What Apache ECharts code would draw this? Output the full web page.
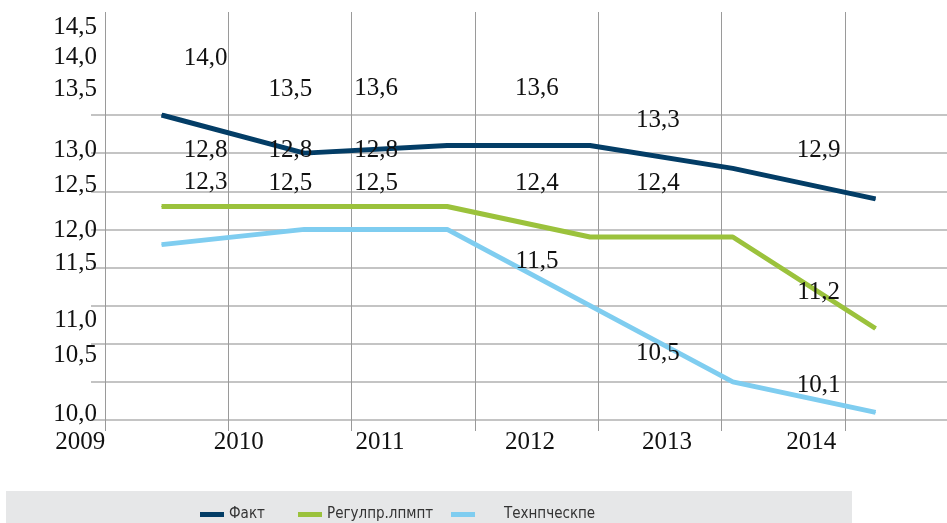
<!DOCTYPE html>
<html>
<head>
<meta charset="utf-8">
<script src="https://cdn.jsdelivr.net/npm/echarts@6/dist/echarts.min.js"></script>
<style>
  html, body { margin: 0; padding: 0; background: #fff; }
  #main { width: 947px; height: 523px; }
</style>
</head>
<body>
<div id="main"></div>
<script>
var years = ['2009', '2010', '2011', '2012', '2013', '2014'];
var fact = [14.0, 13.5, 13.6, 13.6, 13.3, 12.9];
var regul = [12.8, 12.8, 12.8, 12.4, 12.4, 11.2];
var tech = [12.3, 12.5, 12.5, 11.5, 10.5, 10.1];
var yTickLabels = ['14,5', '14,0', '13,5', '13,0', '12,5', '12,0', '11,5', '11,0', '10,5', '10,0'];
var names = ['Факт', 'Регулпр.лпмпт', 'Технпческпе'];

// layout only: the printed labels sit off the grid in the original
var yLabelSpots = [15.15, 14.75, 14.33, 13.54, 13.08, 12.49, 12.05, 11.30, 10.85, 10.07];
var xLabelSpots = [-0.57, 0.54, 1.53, 2.58, 3.54, 4.55];
var labelDx = [44, -14, -71, -53, -75, -57];
var factDy = [-57, -64, -57, -57, -48, -48];
var regulDy = [-56, -56, -56, -54, -54, -36];
var techDy = [-62, -46, -46, -44, -28, -27];
var legendLeft = [195, 293, 446];
var legendTextPad = [0, 0, 24];

var serif = 'Liberation Serif, Times New Roman, serif';
var narrow = 'DejaVu Sans Condensed, Roboto, sans-serif';

function fmt(v) {
  return v.toFixed(1).replace('.', ',');
}

function makeSeries(name, values, dy, color) {
  return {
    name: name,
    type: 'line',
    xAxisIndex: 2,
    yAxisIndex: 2,
    data: values.map(function (v, i) {
      return { value: [i, v], label: { offset: [labelDx[i], dy[i]] } };
    }),
    symbol: 'circle',
    symbolSize: 1,
    showSymbol: true,
    lineStyle: { color: color, width: 5 },
    itemStyle: { color: color },
    label: {
      show: true,
      position: 'inside',
      formatter: function (p) { return fmt(p.value[1]); },
      fontFamily: serif,
      fontSize: 25,
      color: '#111'
    },
    emphasis: { disabled: true },
    z: 3
  };
}

var chart = echarts.init(document.getElementById('main'));

var option = {
  animation: false,
  graphic: [{
    type: 'rect',
    shape: { x: 6, y: 491, width: 846, height: 32 },
    style: { fill: '#e6e7e8' },
    z: -10
  }],
  legend: names.map(function (n, i) {
    return {
      data: [n],
      left: legendLeft[i],
      top: 502,
      icon: 'rect',
      itemWidth: 24,
      itemHeight: 5,
      textStyle: {
        fontFamily: narrow, fontSize: 15, color: '#333',
        padding: [0, 0, 0, legendTextPad[i]]
      }
    };
  }),
  grid: [
    { left: 105, right: 0, top: 12, bottom: 103 },
    { left: 105, right: 0, top: 115, bottom: 103 },
    { left: 61.6, width: 889.1, top: 115, bottom: 103 }
  ],
  xAxis: [
    {
      gridIndex: 0, type: 'value', min: 2009, max: 2015.829, interval: 1,
      axisLine: { show: false },
      axisTick: { show: true, length: 11, lineStyle: { color: '#9a9a9a' } },
      axisLabel: { show: false },
      splitLine: { show: true, lineStyle: { color: '#9a9a9a', width: 1 } }
    },
    { gridIndex: 1, type: 'value', show: false },
    {
      gridIndex: 2, type: 'value', min: -0.7, max: 5.5,
      axisLine: { show: false },
      axisTick: { show: false },
      splitLine: { show: false },
      axisLabel: {
        show: true,
        customValues: xLabelSpots,
        formatter: function (v) { return years[Math.round(v + 0.5)]; },
        fontFamily: serif, fontSize: 25, color: '#111', margin: 10
      }
    }
  ],
  yAxis: [
    {
      gridIndex: 0, type: 'value', min: 10, max: 15.351,
      axisLine: { show: false },
      axisTick: { show: false },
      splitLine: { show: false },
      axisLabel: {
        customValues: yLabelSpots,
        formatter: function (v) {
          var k = 0;
          yLabelSpots.forEach(function (s, i) {
            if (Math.abs(s - v) < Math.abs(yLabelSpots[k] - v)) k = i;
          });
          return yTickLabels[k];
        },
        fontFamily: serif, fontSize: 25, color: '#111', margin: 8
      }
    },
    {
      gridIndex: 1, type: 'value', min: 10, max: 14, interval: 0.5,
      axisLine: { show: false },
      axisTick: { show: true, length: 14, lineStyle: { color: '#b0b0b0', width: 1.5 } },
      axisLabel: { show: false },
      splitLine: { show: true, lineStyle: { color: '#b0b0b0', width: 1.5 } }
    },
    { gridIndex: 2, type: 'value', min: 10, max: 14, show: false }
  ],
  series: [
    makeSeries(names[0], fact, factDy, '#033d66'),
    makeSeries(names[1], regul, regulDy, '#9bc23c'),
    makeSeries(names[2], tech, techDy, '#7fcdf0')
  ]
};

chart.setOption(option);
</script>
</body>
</html>
